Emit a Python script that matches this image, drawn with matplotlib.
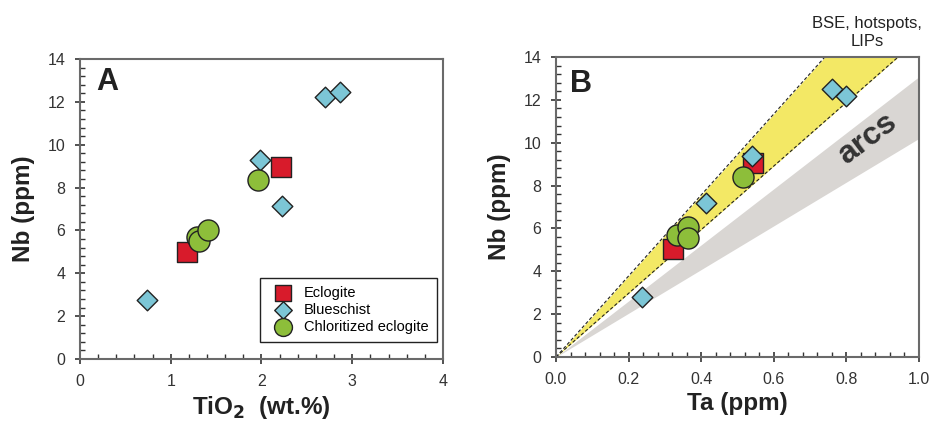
import numpy as np
import matplotlib
matplotlib.use("Agg")
import matplotlib.pyplot as plt
from matplotlib.ticker import MultipleLocator

plt.rcParams["font.family"] = ["Liberation Sans", "DejaVu Sans"]

# Panel A: TiO2 (wt.%) vs Nb (ppm)
ecl_tio2 = [1.18, 2.22]
ecl_nb_a = [4.98, 8.95]
blu_tio2 = [0.74, 1.98, 2.23, 2.70, 2.87]
blu_nb_a = [2.74, 9.29, 7.16, 12.21, 12.48]
chl_tio2 = [1.29, 1.31, 1.41, 1.96]
chl_nb_a = [5.68, 5.49, 6.02, 8.37]

# Panel B: Ta (ppm) vs Nb (ppm)
ecl_ta = [0.323, 0.544]
ecl_nb_b = [5.03, 9.04]
blu_ta = [0.236, 0.412, 0.539, 0.761, 0.799]
blu_nb_b = [2.79, 7.20, 9.38, 12.50, 12.20]
chl_ta = [0.332, 0.365, 0.365, 0.514]
chl_nb_b = [5.68, 6.05, 5.55, 8.38]

# Nb/Ta ratio fields (lines through origin)
oib_slopes = [18.9, 14.85]   # BSE, hotspots, LIPs
arc_slopes = [13.08, 10.2]   # arcs

RED, BLUE, GREEN = "#D81B2B", "#7CC6D6", "#8DBE3A"
YELLOW, GRAY = "#F3E865", "#D9D6D3"
SPINE = "#6A6A6A"

fig = plt.figure(figsize=(9.31, 4.30), dpi=100)
axA = fig.add_axes([0.0859, 0.1651, 0.3899, 0.6977])
axB = fig.add_axes([0.5972, 0.1698, 0.3899, 0.6977])


def style(ax, xmaj, xmin):
    ax.xaxis.set_major_locator(MultipleLocator(xmaj))
    ax.xaxis.set_minor_locator(MultipleLocator(xmin))
    ax.yaxis.set_major_locator(MultipleLocator(2))
    ax.yaxis.set_minor_locator(MultipleLocator(0.4))
    ax.tick_params(which="major", direction="inout", length=7, width=1.2,
                   color="#333333", labelsize=11.5, labelcolor="#333333", pad=7)
    ax.tick_params(which="minor", direction="in", length=3.5, width=1.0,
                   color="#333333")
    for s in ax.spines.values():
        s.set_color(SPINE)
        s.set_linewidth(1.5)
    ax.set_ylabel("Nb (ppm)", fontsize=17.5, fontweight="bold", color="#222222", labelpad=9)


def points(ax, ex, ey, bx, by, cx, cy):
    ax.scatter(ex, ey, marker="s", s=200, c=RED, edgecolors="#222222", linewidths=1.0,
               zorder=3, label="Eclogite")
    ax.scatter(bx, by, marker="D", s=110, c=BLUE, edgecolors="#222222", linewidths=1.0,
               zorder=4, label="Blueschist")
    ax.scatter(cx, cy, marker="o", s=230, c=GREEN, edgecolors="#222222", linewidths=1.0,
               zorder=5, label="Chloritized eclogite")


# ---- Panel A
points(axA, ecl_tio2, ecl_nb_a, blu_tio2, blu_nb_a, chl_tio2, chl_nb_a)
axA.set_xlim(0, 4)
axA.set_ylim(0, 14)
style(axA, 1, 0.2)
axA.set_xlabel("TiO$_\\mathbf{2}$  (wt.%)", fontsize=17.5, fontweight="bold", color="#222222")
axA.text(0.044, 0.923, "A", transform=axA.transAxes, fontsize=22, fontweight="bold",
         color="#222222", va="center")
leg = axA.legend(loc="lower right", bbox_to_anchor=(0.983, 0.057), fontsize=10.5,
                 frameon=True, fancybox=False, edgecolor="#222222", framealpha=1,
                 handletextpad=0.45, labelspacing=0.2, borderpad=0.55, markerscale=0.85,
                 borderaxespad=0)
leg.get_frame().set_linewidth(1.0)

# ---- Panel B
xs = np.array([0.0, 1.0])
axB.fill_between(xs, arc_slopes[1] * xs, arc_slopes[0] * xs, color=GRAY, lw=0, zorder=1)
axB.fill_between(xs, oib_slopes[1] * xs, oib_slopes[0] * xs, color=YELLOW, lw=0, zorder=1)
for k in oib_slopes:
    axB.plot(xs, k * xs, ls=(0, (3, 2)), color="#222222", lw=0.8, zorder=2)
points(axB, ecl_ta, ecl_nb_b, blu_ta, blu_nb_b, chl_ta, chl_nb_b)
axB.set_xlim(0, 1)
axB.set_ylim(0, 14)
style(axB, 0.2, 0.04)
axB.xaxis.set_major_formatter(matplotlib.ticker.FormatStrFormatter("%.1f"))
axB.set_xlabel("Ta (ppm)", fontsize=17.5, fontweight="bold", color="#222222")
axB.text(0.039, 0.91, "B", transform=axB.transAxes, fontsize=22, fontweight="bold",
         color="#222222", va="center")
axB.text(0.857, 10.2, "arcs", fontsize=23, fontweight="bold", color="#333333",
         rotation=37, ha="center", va="center", zorder=6)
axB.text(0.857, 1.025, "BSE, hotspots,\nLIPs", transform=axB.transAxes, fontsize=12,
         color="#222222", ha="center", va="bottom", linespacing=1.25)

fig.savefig("out.png", dpi=100)
